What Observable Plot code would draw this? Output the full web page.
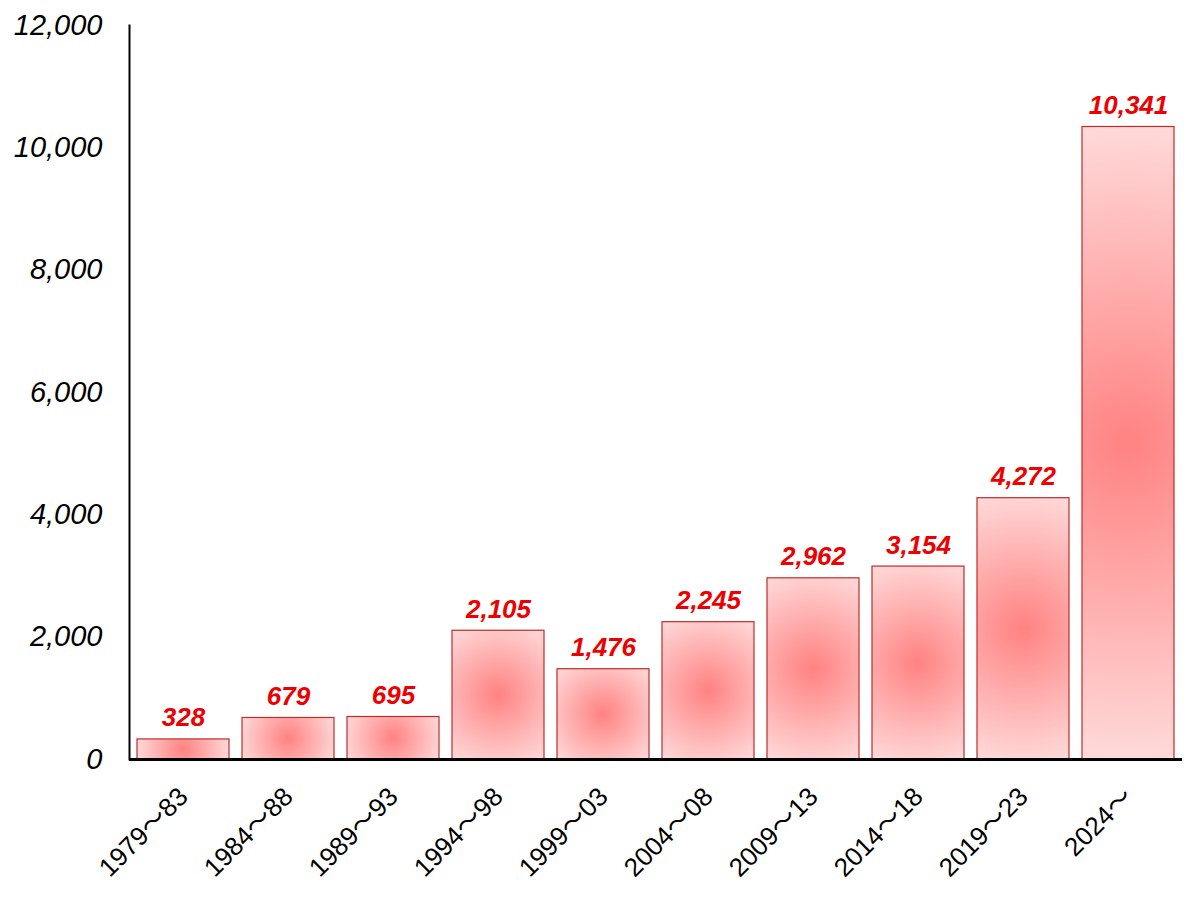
<!DOCTYPE html>
<html>
<head>
<meta charset="utf-8">
<script src="https://cdn.jsdelivr.net/npm/d3@7"></script>
<script src="https://cdn.jsdelivr.net/npm/@observablehq/plot@0.6"></script>
<style>
  html, body { margin: 0; padding: 0; background: #fff; }
  #chart svg { display: block; font-family: "Liberation Sans", Arial, sans-serif; }
</style>
</head>
<body>
<div id="chart"></div>
<script>
const periods = ["1979〜83", "1984〜88", "1989〜93", "1994〜98", "1999〜03", "2004〜08", "2009〜13", "2014〜18", "2019〜23", "2024〜"];
const counts = [328, 679, 695, 2105, 1476, 2245, 2962, 3154, 4272, 10341];
const yTicks = [0, 2000, 4000, 6000, 8000, 10000, 12000];

const data = periods.map((p, i) => ({period: p, count: counts[i]}));

function gradientBars(index, scales, values, dims, context, next) {
  const g = next(index, scales, values, dims, context);
  const svg = context.ownerSVGElement;
  let defs = svg.querySelector("defs");
  if (!defs) {
    defs = document.createElementNS("http://www.w3.org/2000/svg", "defs");
    svg.insertBefore(defs, svg.firstChild);
  }
  g.querySelectorAll("rect").forEach((rect, i) => {
    const x = +rect.getAttribute("x"), y = +rect.getAttribute("y");
    const w = +rect.getAttribute("width"), h = +rect.getAttribute("height");
    const id = "barGrad" + i;
    const grad = document.createElementNS("http://www.w3.org/2000/svg", "radialGradient");
    grad.setAttribute("id", id);
    grad.setAttribute("gradientUnits", "userSpaceOnUse");
    grad.setAttribute("cx", x + w / 2);
    grad.setAttribute("cy", y + h / 2);
    grad.setAttribute("r", Math.hypot(w, h) / 2);
    [["0%", "#ff8282"], ["100%", "#ffdada"]].forEach(([o, c]) => {
      const s = document.createElementNS("http://www.w3.org/2000/svg", "stop");
      s.setAttribute("offset", o);
      s.setAttribute("stop-color", c);
      grad.appendChild(s);
    });
    defs.appendChild(grad);
    rect.setAttribute("fill", `url(#${id})`);
  });
  return g;
}

const chart = Plot.plot({
  width: 1200,
  height: 900,
  marginTop: 25,
  marginBottom: 141,
  marginLeft: 129,
  marginRight: 18,
  style: {fontFamily: "'Liberation Sans', Arial, sans-serif", background: "#fff"},
  x: {domain: periods, paddingInner: 0.125, paddingOuter: 0.0625, label: null},
  y: {domain: [0, 12000], label: null},
  marks: [
    Plot.barY(data, {
      x: "period", y: "count",
      fill: "#ffb0b0", stroke: "#c02c2c", strokeWidth: 1.2,
      render: gradientBars
    }),
    Plot.text(data, {
      x: "period", y: "count",
      text: d => d3.format(",")(d.count),
      lineAnchor: "bottom", dy: -13,
      fill: "#ee0000", fontSize: 26, fontWeight: "bold", fontStyle: "italic"
    }),
    Plot.axisY({
      ticks: yTicks, tickSize: 0, tickPadding: 27,
      tickFormat: d3.format(","), fontSize: 29, fontStyle: "italic", fill: "#000", label: null
    }),
    Plot.axisX({
      tickSize: 0, tickRotate: -45, tickPadding: 33, fontSize: 26, fill: "#000", label: null,
      fontFamily: "'Liberation Sans', 'Noto Sans CJK JP', sans-serif"
    }),
    Plot.frame({anchor: "left", stroke: "#000", strokeWidth: 2}),
    Plot.ruleY([0], {stroke: "#000", strokeWidth: 3})
  ]
});

document.getElementById("chart").appendChild(chart);
</script>
</body>
</html>
